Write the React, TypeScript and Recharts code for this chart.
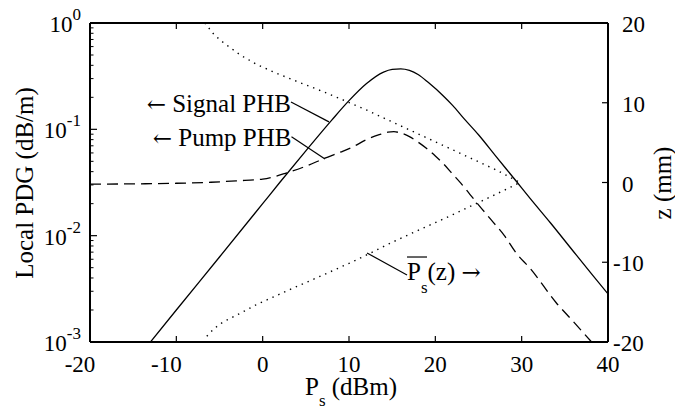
import React from 'react'
import { LineChart, Line, XAxis, YAxis, ReferenceLine, ReferenceDot } from 'recharts'

const W = 675
const H = 412
const PLOT = { left: 90, right: 608, top: 23, bottom: 342 }
const FONT = "'Liberation Serif', 'Times New Roman', Times, serif"
const ARROW_FONT = "'DejaVu Serif', 'DejaVu Sans', serif"

// Signal PHB (solid), local PDG in dB/m vs Ps in dBm
const signalPs = [-13, -10, -5, 0, 2, 5, 8, 10, 12, 14, 15, 16, 17, 18, 19.2, 20.9, 22, 23.4, 25, 27, 29.4, 31, 33.3, 36, 38, 40]
const signalPdg = [0.001, 0.002, 0.0063, 0.02, 0.0318, 0.0627, 0.122, 0.186, 0.268, 0.345, 0.366, 0.37, 0.358, 0.328, 0.275, 0.207, 0.168, 0.124, 0.089, 0.056, 0.0323, 0.0223, 0.0133, 0.0071, 0.00447, 0.00283]

// Pump PHB (dashed)
const pumpPs = [-20, -15, -10, -6, -3, 0, 2.8, 5, 7.2, 9, 10.5, 12, 13.5, 14.5, 15.2, 16, 17, 18, 19, 20, 21, 22, 23, 24, 25, 26.5, 28, 29.4, 31, 34, 36, 38.1]
const pumpPdg = [0.0305, 0.0307, 0.0311, 0.0318, 0.0328, 0.034, 0.039, 0.045, 0.0535, 0.061, 0.0687, 0.08, 0.089, 0.094, 0.095, 0.0923, 0.0855, 0.0759, 0.066, 0.0562, 0.0468, 0.038, 0.0309, 0.0245, 0.0195, 0.014, 0.01, 0.0068, 0.0049, 0.00234, 0.00155, 0.001]

// mean signal power along the fibre, Ps(z) (dotted, right axis), ordered by z
const meanPs = [-6.7, -5.6, -4.5, -2.6, -0.7, 1.6, 3.9, 6.3, 9, 12, 15, 18, 21, 24, 27, 29.8, 28.7, 25.6, 21.7, 17.8, 14.6, 10.9, 7, 3.2, -0.7, -2.6, -4.6, -5.6, -6.5]
const meanZ = [20, 18.5, 17.5, 16, 14.8, 13.7, 12.7, 11.7, 10.5, 9.1, 7.6, 6.1, 4.6, 3.1, 1.6, 0, -0.6, -2.2, -4.2, -6.1, -7.7, -9.7, -11.6, -13.4, -15.3, -16.4, -17.5, -18.3, -19.3]

const xTicks = [-20, -10, 0, 10, 20, 30, 40]
const zTicks = [-20, -10, 0, 10, 20]
const decades = [0.001, 0.01, 0.1]
const pdgTicks = [...decades.flatMap((d) => [1, 2, 3, 4, 5, 6, 7, 8, 9].map((m) => m * d)), 1]

const signalData = signalPs.map((ps, i) => ({ ps, pdg: signalPdg[i] }))
const pumpData = pumpPs.map((ps, i) => ({ ps, pdg: pumpPdg[i] }))
const meanData = meanPs.map((ps, i) => ({ ps, z: meanZ[i] }))

const txt = { style: { fontFamily: FONT }, fill: '#000' }

function LeftTick(props: any) {
  const { y, payload } = props
  const lg = Math.log10(payload.value)
  const exp = Math.round(lg)
  if (Math.abs(lg - exp) > 1e-6) {
    return <line x1={PLOT.left} x2={PLOT.left + 3.5} y1={y} y2={y} stroke="#000" strokeWidth={1} />
  }
  return (
    <g>
      {exp > -3 && exp < 0 && <line x1={PLOT.left} x2={PLOT.left + 7} y1={y} y2={y} stroke="#000" strokeWidth={1.2} />}
      <text x={81} y={y + 9} textAnchor="end" fontSize={23} {...txt}>
        <tspan>10</tspan>
        <tspan dy={-12} fontSize={17}>{exp === 0 ? '0' : '-' + Math.abs(exp)}</tspan>
      </text>
    </g>
  )
}

function BottomTick(props: any) {
  const { x, payload } = props
  const v = payload.value
  const inner = v > -20 && v < 40
  return (
    <g>
      {inner && <line x1={x} x2={x} y1={PLOT.bottom} y2={PLOT.bottom - 6} stroke="#000" strokeWidth={1.2} />}
      {inner && <line x1={x} x2={x} y1={PLOT.top} y2={PLOT.top + 6} stroke="#000" strokeWidth={1.2} />}
      <text x={v < 0 ? x - 10 : x} y={372} textAnchor="middle" fontSize={23} {...txt}>{v}</text>
    </g>
  )
}

function RightTick(props: any) {
  const { y, payload } = props
  const v = payload.value
  const inner = v > -20 && v < 20
  return (
    <g>
      {inner && <line x1={PLOT.right} x2={PLOT.right - 6} y1={y} y2={y} stroke="#000" strokeWidth={1.2} />}
      <text x={v < 0 ? 613 : 622} y={y + 9} textAnchor="start" fontSize={23} {...txt}>{v}</text>
    </g>
  )
}

const LeftTitle = () => (
  <text x={33} y={183} transform="rotate(-90, 33, 183)" textAnchor="middle" fontSize={25} {...txt}>
    Local PDG (dB/m)
  </text>
)

const RightTitle = () => (
  <text x={671} y={183} transform="rotate(-90, 671, 183)" textAnchor="middle" fontSize={25} {...txt}>
    z (mm)
  </text>
)

const BottomTitle = () => (
  <text x={305} y={395} fontSize={25} {...txt}>
    <tspan>P</tspan>
    <tspan dy={11} fontSize={17}>s</tspan>
    <tspan dy={-11}> (dBm)</tspan>
  </text>
)

const EndLabel = (text: string, dy: number) => (p: any) => (
  <text x={p.cx} y={p.cy + dy} textAnchor="end" fontSize={25} {...txt}>
    <tspan style={{ fontFamily: ARROW_FONT }} fontSize={23}>←</tspan>
    <tspan> {text}</tspan>
  </text>
)

const MeanLabel = (p: any) => (
  <g>
    <line x1={p.cx} x2={p.cx + 20} y1={p.cy - 18} y2={p.cy - 18} stroke="#000" strokeWidth={1.2} />
    <text x={p.cx} y={p.cy + 5} fontSize={25} {...txt}>
      <tspan>P</tspan>
      <tspan dy={13} fontSize={17}>s</tspan>
      <tspan dy={-13}>(z) </tspan>
      <tspan style={{ fontFamily: ARROW_FONT }} fontSize={23}>→</tspan>
    </text>
  </g>
)

export default function App() {
  return (
    <div style={{ position: 'absolute', left: 0, top: 0, width: W, height: H, background: '#fff' }}>
      <LineChart width={W} height={H} margin={{ top: PLOT.top, right: 0, bottom: 0, left: 0 }}>
        <XAxis
          xAxisId="b"
          dataKey="ps"
          type="number"
          domain={[-20, 40]}
          ticks={xTicks}
          interval={0}
          height={H - PLOT.bottom}
          tickLine={false}
          axisLine={{ stroke: '#000', strokeWidth: 2 }}
          tick={BottomTick}
          label={<BottomTitle />}
          allowDataOverflow
        />
        <YAxis
          yAxisId="left"
          type="number"
          scale="log"
          domain={[0.001, 1]}
          ticks={pdgTicks}
          interval={0}
          width={PLOT.left}
          tickLine={false}
          axisLine={{ stroke: '#000', strokeWidth: 2 }}
          tick={LeftTick}
          label={<LeftTitle />}
          allowDataOverflow
        />
        <YAxis
          yAxisId="right"
          orientation="right"
          type="number"
          domain={[-20, 20]}
          ticks={zTicks}
          interval={0}
          width={W - PLOT.right}
          tickLine={false}
          axisLine={{ stroke: '#000', strokeWidth: 2 }}
          tick={RightTick}
          label={<RightTitle />}
          allowDataOverflow
        />
        <ReferenceLine xAxisId="b" yAxisId="right" y={20} stroke="#000" strokeWidth={2} />

        <Line
          xAxisId="b"
          yAxisId="right"
          data={meanData}
          dataKey="z"
          type="linear"
          stroke="#000"
          strokeWidth={1.4}
          strokeDasharray="1.4 5"
          dot={false}
          activeDot={false}
          isAnimationActive={false}
        />
        <Line
          xAxisId="b"
          yAxisId="left"
          data={pumpData}
          dataKey="pdg"
          type="monotone"
          stroke="#000"
          strokeWidth={1.3}
          strokeDasharray="11 6"
          dot={false}
          activeDot={false}
          isAnimationActive={false}
        />
        <Line
          xAxisId="b"
          yAxisId="left"
          data={signalData}
          dataKey="pdg"
          type="monotone"
          stroke="#000"
          strokeWidth={1.3}
          dot={false}
          activeDot={false}
          isAnimationActive={false}
        />

        <ReferenceLine xAxisId="b" yAxisId="left" segment={[{ x: 3.28, y: 0.181 }, { x: 7.68, y: 0.1175 }]} stroke="#000" strokeWidth={1.2} />
        <ReferenceLine xAxisId="b" yAxisId="left" segment={[{ x: 3.34, y: 0.0853 }, { x: 7.22, y: 0.0527 }]} stroke="#000" strokeWidth={1.2} />
        <ReferenceLine xAxisId="b" yAxisId="right" segment={[{ x: 12.09, y: -8.84 }, { x: 16.72, y: -11.6 }]} stroke="#000" strokeWidth={1.2} />
        <ReferenceDot xAxisId="b" yAxisId="left" x={3.28} y={0.181} r={0} shape={EndLabel('Signal PHB', 10)} />
        <ReferenceDot xAxisId="b" yAxisId="left" x={3.34} y={0.0853} r={0} shape={EndLabel('Pump PHB', 9.5)} />
        <ReferenceDot xAxisId="b" yAxisId="right" x={16.72} y={-11.6} r={0} shape={MeanLabel} />
      </LineChart>
    </div>
  )
}
